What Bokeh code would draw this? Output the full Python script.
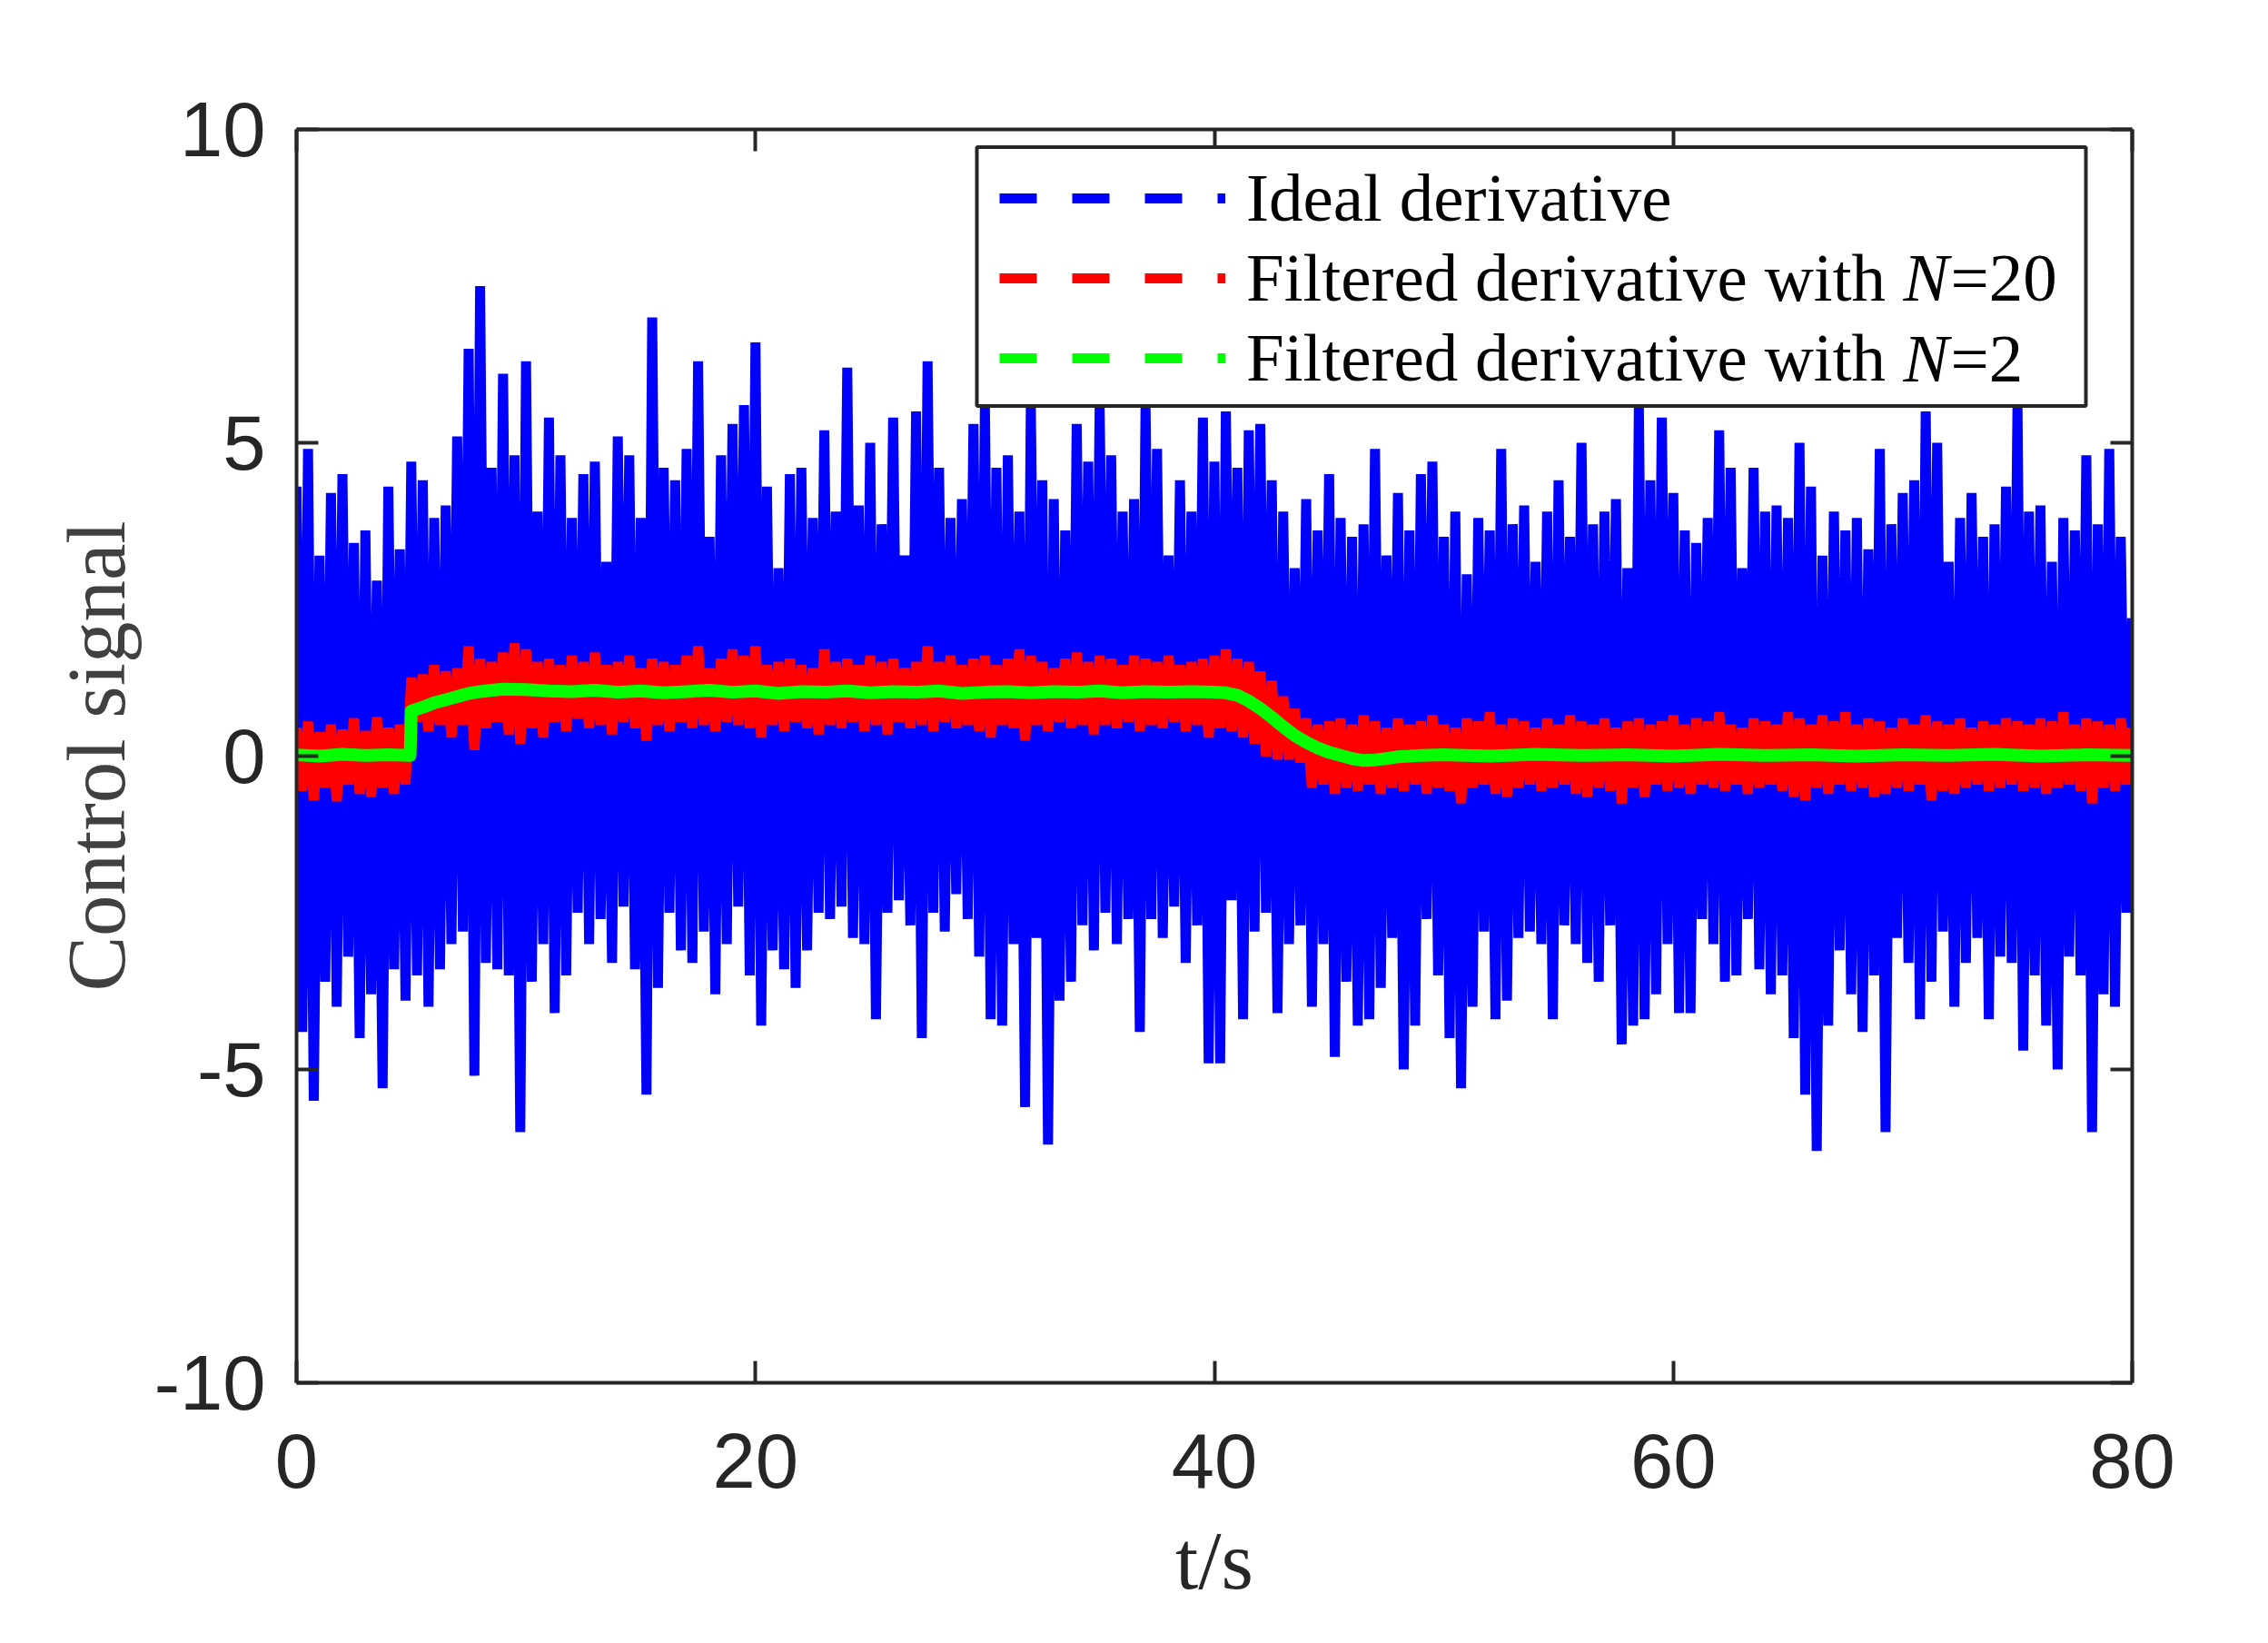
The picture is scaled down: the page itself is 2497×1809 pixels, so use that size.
from bokeh.plotting import figure
from bokeh.models import LinearAxis, FixedTicker, Legend, LegendItem, Label, BoxAnnotation
from bokeh.embed import file_html
from bokeh.resources import INLINE

# ---------------- data ----------------
x_ticks = [0, 20, 40, 60, 80]
y_ticks = [-10, -5, 0, 5, 10]
y_tick_text = ["-10", "-5", "0", "5", "10"]
x_label = "t/s"
y_label = "Control signal"
legend_names = ["Ideal derivative", "Filtered derivative with", "Filtered derivative with"]
legend_suffix = ["", "=20", "=2"]

SAMPLE_STEP = 0.25  # s between samples; peaks and troughs alternate

# ideal derivative: local maxima at t = 0, 0.5, ..., 80 (one row = 5 s)
ideal_peaks = [
    4.3, 4.9, 3.2, 4.2, 4.5, 3.4, 3.6, 2.8, 4.3, 3.3,
    4.7, 4.4, 3.8, 4.0, 5.1, 6.5, 7.5, 4.6, 6.1, 4.8,
    6.3, 3.9, 5.4, 4.8, 3.8, 4.5, 4.7, 3.1, 5.1, 4.8,
    3.8, 7.0, 4.6, 4.4, 4.9, 6.3, 3.5, 4.8, 5.3, 5.6,
    6.6, 4.3, 3.0, 4.5, 4.6, 3.8, 5.2, 3.9, 6.2, 4.0,
    5.0, 3.7, 5.4, 3.2, 5.5, 6.3, 4.6, 3.8, 4.1, 5.3,
    5.6, 4.6, 4.8, 3.9, 5.6, 4.4, 4.1, 3.6, 5.3, 4.7,
    5.6, 4.8, 3.9, 4.1, 5.6, 4.9, 3.2, 4.4, 3.9, 5.4,
    4.7, 5.5, 4.6, 5.2, 5.3, 4.4, 3.9, 3.0, 4.1, 3.6,
    4.5, 3.8, 3.5, 3.7, 4.9, 3.2, 4.2, 3.6, 4.5, 4.7,
    3.5, 3.9, 2.9, 3.8, 3.6, 4.9, 3.7, 4.0, 3.1, 3.9,
    4.4, 3.5, 5.0, 3.7, 3.9, 4.1, 3.0, 5.6, 4.4, 5.4,
    4.2, 3.6, 3.4, 3.8, 5.2, 4.6, 3.0, 4.6, 3.9, 4.0,
    3.8, 5.0, 4.3, 3.2, 3.9, 3.6, 3.8, 3.3, 4.9, 3.7,
    4.2, 4.4, 5.5, 5.0, 3.1, 3.8, 4.2, 3.5, 3.7, 4.3,
    5.6, 3.9, 4.0, 3.1, 3.8, 3.6, 4.8, 3.7, 4.9, 3.5,
    2.2,
]
# ideal derivative: local minima at t = 0.25, 0.75, ..., 79.75
ideal_troughs = [
    -4.4, -5.5, -3.6, -4.0, -3.2, -4.5, -3.8, -5.3, -3.4, -3.9,
    -3.5, -4.0, -3.4, -3.0, -2.8, -5.1, -3.3, -3.4, -3.5, -6.0,
    -3.6, -3.0, -4.1, -3.5, -2.5, -3.0, -2.6, -3.3, -2.4, -3.4,
    -5.4, -3.7, -2.5, -3.1, -3.3, -2.8, -3.8, -3.0, -2.4, -3.5,
    -4.3, -3.1, -3.4, -3.7, -3.1, -2.5, -2.6, -2.4, -2.9, -3.0,
    -4.2, -2.5, -2.3, -2.7, -4.5, -2.5, -2.8, -2.2, -2.6, -3.2,
    -4.2, -4.3, -3.0, -5.6, -2.9, -6.2, -3.9, -3.6, -2.7, -3.1,
    -2.5, -3.0, -2.6, -4.4, -2.6, -2.9, -2.4, -3.3, -2.7, -4.9,
    -4.9, -2.3, -4.2, -2.8, -2.5, -4.1, -3.0, -2.7, -4.0, -3.0,
    -4.8, -3.6, -4.3, -4.2, -3.7, -2.9, -5.0, -4.3, -2.6, -3.5,
    -4.5, -5.3, -4.0, -2.8, -4.2, -3.9, -2.9, -2.8, -3.0, -4.2,
    -2.7, -3.0, -3.3, -3.6, -2.7, -4.6, -4.3, -4.2, -3.8, -3.0,
    -4.1, -4.1, -2.6, -3.0, -3.6, -3.5, -2.6, -3.4, -3.8, -3.5,
    -4.5, -5.4, -6.3, -4.3, -3.1, -3.8, -4.4, -3.5, -6.0, -2.9,
    -3.3, -4.2, -3.6, -2.8, -4.0, -3.3, -2.9, -4.2, -3.2, -3.3,
    -4.7, -3.5, -4.3, -5.0, -3.2, -3.5, -6.0, -3.8, -4.0, -2.5,
]
# filtered derivative N=20: maxima at t = 0, 0.5, ..., 80
n20_peaks = [
    0.45, 0.55, 0.38, 0.50, 0.42, 0.60, 0.40, 0.62, 0.45, 0.50,
    1.25, 1.30, 1.45, 1.35, 1.40, 1.75, 1.55, 1.50, 1.65, 1.80,
    1.70, 1.50, 1.55, 1.45, 1.60, 1.50, 1.65, 1.45, 1.50, 1.60,
    1.40, 1.55, 1.50, 1.45, 1.60, 1.75, 1.40, 1.55, 1.70, 1.60,
    1.75, 1.45, 1.50, 1.55, 1.45, 1.40, 1.70, 1.50, 1.55, 1.45,
    1.60, 1.50, 1.55, 1.40, 1.50, 1.75, 1.50, 1.60, 1.45, 1.55,
    1.60, 1.45, 1.55, 1.70, 1.60, 1.50, 1.40, 1.55, 1.65, 1.50,
    1.60, 1.55, 1.45, 1.60, 1.55, 1.50, 1.60, 1.45, 1.50, 1.55,
    1.60, 1.70, 1.55, 1.50, 1.35, 1.20, 0.95, 0.75, 0.60, 0.50,
    0.55, 0.60, 0.50, 0.65, 0.55, 0.45, 0.60, 0.50, 0.55, 0.65,
    0.50, 0.45, 0.60, 0.55, 0.70, 0.50, 0.60, 0.55, 0.45, 0.60,
    0.50, 0.65, 0.55, 0.50, 0.60, 0.45, 0.55, 0.60, 0.50, 0.55,
    0.65, 0.50, 0.60, 0.55, 0.70, 0.50, 0.45, 0.60, 0.55, 0.50,
    0.70, 0.60, 0.50, 0.65, 0.55, 0.70, 0.50, 0.60, 0.55, 0.45,
    0.60, 0.50, 0.65, 0.55, 0.50, 0.60, 0.45, 0.55, 0.50, 0.60,
    0.55, 0.50, 0.60, 0.55, 0.70, 0.50, 0.60, 0.55, 0.50, 0.60,
    0.45,
]
# filtered derivative N=20: minima at t = 0.25, ..., 79.75
n20_troughs = [
    -0.55, -0.70, -0.50, -0.72, -0.45, -0.60, -0.65, -0.50, -0.60, -0.45,
    0.55, 0.40, 0.50, 0.30, 0.50, 0.10, 0.45, 0.55, 0.35, 0.20,
    0.45, 0.30, 0.55, 0.40, 0.60, 0.45, 0.50, 0.35, 0.55, 0.45,
    0.25, 0.50, 0.40, 0.55, 0.45, 0.50, 0.40, 0.55, 0.50, 0.45,
    0.30, 0.50, 0.40, 0.55, 0.45, 0.35, 0.50, 0.45, 0.55, 0.40,
    0.50, 0.35, 0.55, 0.45, 0.50, 0.40, 0.55, 0.45, 0.50, 0.40,
    0.30, 0.50, 0.45, 0.25, 0.50, 0.40, 0.55, 0.45, 0.50, 0.35,
    0.50, 0.45, 0.55, 0.40, 0.50, 0.45, 0.55, 0.40, 0.50, 0.30,
    0.45, 0.40, 0.30, 0.20, 0.00, -0.05, -0.05, -0.10, -0.50, -0.45,
    -0.60, -0.50, -0.55, -0.45, -0.60, -0.50, -0.55, -0.45, -0.60, -0.50,
    -0.55, -0.75, -0.50, -0.45, -0.60, -0.65, -0.50, -0.45, -0.55, -0.50,
    -0.45, -0.60, -0.65, -0.50, -0.55, -0.75, -0.50, -0.65, -0.45, -0.55,
    -0.50, -0.60, -0.45, -0.50, -0.55, -0.45, -0.60, -0.50, -0.45, -0.55,
    -0.65, -0.70, -0.50, -0.60, -0.45, -0.55, -0.50, -0.65, -0.60, -0.50,
    -0.55, -0.45, -0.70, -0.55, -0.60, -0.50, -0.45, -0.55, -0.50, -0.45,
    -0.55, -0.50, -0.60, -0.50, -0.45, -0.55, -0.75, -0.50, -0.55, -0.45,
]
# filtered derivative N=2
n2_t = [0, 1, 2, 3, 4, 4.95, 5.0, 5.5, 6, 6.5, 7, 7.5, 8, 8.5, 9,
        10, 11, 12, 13, 14, 15, 16, 17, 18, 19, 20, 21, 22, 23, 24, 25,
        26, 27, 28, 29, 30, 31, 32, 33, 34, 35, 36, 37, 38, 39, 40,
        40.5, 41, 41.5, 42, 42.5, 43, 43.5, 44, 44.5, 45, 45.5, 46, 46.5,
        47, 47.5, 48, 49, 50, 52, 54, 56, 58, 60, 62, 64, 66, 68, 70,
        72, 74, 76, 78, 80]
n2_v = [0.02, 0.00, 0.03, 0.01, 0.02, 0.01, 0.72, 0.78, 0.85, 0.90, 0.95, 1.00, 1.03, 1.05, 1.07,
        1.06, 1.04, 1.03, 1.05, 1.02, 1.04, 1.01, 1.03, 1.05, 1.02, 1.04, 1.00, 1.03, 1.02, 1.04, 1.01,
        1.03, 1.02, 1.04, 1.00, 1.02, 1.03, 1.01, 1.03, 1.02, 1.04, 1.01, 1.03, 1.02, 1.03, 1.02,
        1.01, 0.97, 0.88, 0.76, 0.62, 0.47, 0.33, 0.22, 0.13, 0.06, 0.01, -0.04, -0.07,
        -0.06, -0.04, -0.01, 0.01, 0.02, 0.00, 0.03, 0.01, 0.02, 0.00, 0.03, 0.01, 0.02, 0.00, 0.02,
        0.01, 0.03, 0.00, 0.02, 0.01]


def interleave(peaks, troughs):
    out = []
    for i, pk in enumerate(peaks):
        out.append(pk)
        if i < len(troughs):
            out.append(troughs[i])
    return out


ideal_v = interleave(ideal_peaks, ideal_troughs)
ideal_t = [i * SAMPLE_STEP for i in range(len(ideal_v))]
n20_v = interleave(n20_peaks, n20_troughs)
n20_t = [i * SAMPLE_STEP for i in range(len(n20_v))]

BLUE, RED, GREEN = "#0000ff", "#ff0000", "#00ff00"
AX = "#262626"

# ---------------- figure ----------------
FW, FH = 2021, 1380
p = figure(frame_width=FW, frame_height=FH, x_range=(0, 80), y_range=(-10, 10),
           output_backend="svg", toolbar_location=None,
           min_border_left=326, min_border_right=133, min_border_top=142, min_border_bottom=268,
           background_fill_color="white", border_fill_color="white")
p.outline_line_color = None
p.xgrid.grid_line_color = None
p.ygrid.grid_line_color = None

p.line(ideal_t, ideal_v, line_color=BLUE, line_width=11, line_join="bevel", line_cap="butt")
p.line(n20_t, n20_v, line_color=RED, line_width=11, line_join="bevel", line_cap="butt")
p.line(n2_t, n2_v, line_color=GREEN, line_width=14, line_join="round")

# legend sample renderers (dashed, as in the legend); they hold no drawable segment
nan = float("nan")
proxies = [p.line(x=[nan], y=[nan], line_color=c, line_width=11, line_dash="41 39",
                  line_cap="butt")
           for c in (BLUE, RED, GREEN)]

top = LinearAxis()
right = LinearAxis()
p.add_layout(top, "above")
p.add_layout(right, "right")

for ax in p.below + p.above:
    ax.ticker = FixedTicker(ticks=x_ticks)
for ax in p.left + p.right:
    ax.ticker = FixedTicker(ticks=y_ticks)
for ax in p.below + p.above + p.left + p.right:
    ax.axis_line_color = AX
    ax.axis_line_width = 4
    ax.major_tick_line_color = AX
    ax.major_tick_line_width = 4
    ax.major_tick_in = 24
    ax.major_tick_out = 0
    ax.minor_tick_line_color = None
    ax.major_label_text_font = "Liberation Sans"
    ax.major_label_text_font_size = "85px"
    ax.major_label_text_color = AX

top.major_label_overrides = {t: "" for t in x_ticks}
right.major_label_overrides = {t: "" for t in y_ticks}

xa = p.below[0]
ya = p.left[0]
ya.major_label_overrides = {t: s for t, s in zip(y_ticks, y_tick_text)}
xa.major_label_standoff = 56
ya.major_label_standoff = 34
xa.axis_label = x_label
ya.axis_label = y_label
for ax, col in ((xa, AX), (ya, "#404040")):
    ax.axis_label_text_font = "Liberation Serif"
    ax.axis_label_text_font_size = "91px"
    ax.axis_label_text_font_style = "normal"
    ax.axis_label_text_color = col
xa.axis_label_standoff = 27
ya.axis_label_standoff = 10


def px_to_x(px):
    return px / FW * 80


def px_to_y(px_from_top):
    return 10 - px_from_top / FH * 20


# ---------------- legend ----------------
# white box with dark border behind the legend entries
p.add_layout(BoxAnnotation(left=px_to_x(749), right=px_to_x(1970),
                           top=px_to_y(19.5), bottom=px_to_y(304.5),
                           fill_color="white", fill_alpha=1.0,
                           line_color=AX, line_width=4, line_alpha=1.0))

# italic N and the rest of the labels, placed right after "Filtered derivative with "
N_PX = 1769      # pixel from frame left where the italic N begins
EQ_PX = 1821     # pixel where "=.." begins
ROW_PX = [163, 251.5]  # pixel below frame top for legend rows 2 and 3
for suffix, row in zip(legend_suffix[1:], ROW_PX):
    yd = px_to_y(row)
    p.add_layout(Label(x=px_to_x(N_PX), y=yd, text="N", text_font="Liberation Serif",
                       text_font_style="italic", text_font_size="75px", text_color="black",
                       text_baseline="middle"))
    p.add_layout(Label(x=px_to_x(EQ_PX), y=yd, text=suffix, text_font="Liberation Serif",
                       text_font_size="75px", text_color="black", text_baseline="middle"))

legend = Legend(
    items=[LegendItem(label=n, renderers=[r]) for n, r in zip(legend_names, proxies)],
    location=(762, 1073), padding=12, spacing=2, label_height=60, label_width=400,
    glyph_width=249, glyph_height=20, label_standoff=23, margin=0,
    border_line_alpha=0.0, background_fill_alpha=0.0,
    label_text_font="Liberation Serif", label_text_font_size="75px", label_text_color="black",
)
p.add_layout(legend)

open("out.html", "w").write(file_html(p, INLINE))
